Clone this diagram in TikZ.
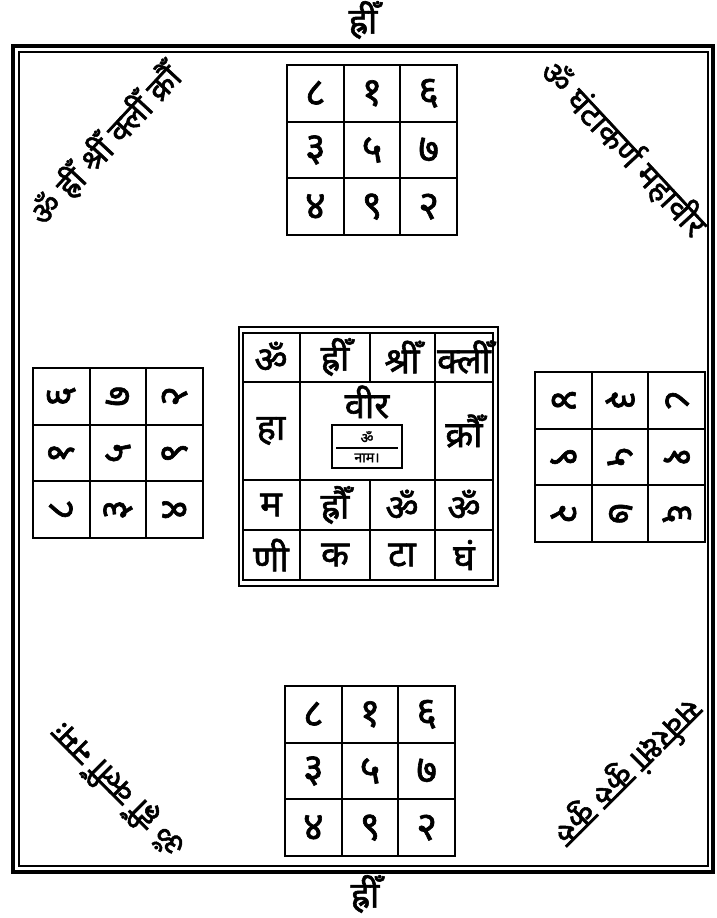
\documentclass[tikz,border=0pt]{standalone}
\usepackage{fontspec}
\newfontfamily\deva[Script=Devanagari, FakeBold=1.6]{Noto Sans}
\usetikzlibrary{positioning}
\tikzset{
  outer frame/.style={line width=3pt},
  inner frame/.style={line width=.9pt},
  grid/.style={line width=1.8pt},
  digit/.style={font=\deva\fontsize{34}{34}\selectfont, inner sep=0pt, transform shape},
  bija/.style={font=\deva\fontsize{31}{31}\selectfont, inner sep=0pt},
  mantra/.style={font=\deva\fontsize{28}{28}\selectfont, inner sep=0pt},
  small/.style={font=\deva\fontsize{12}{12}\selectfont, inner sep=0pt}
}
\newcommand{\magicsquare}[4]{%
  \draw[grid] (#2,#3) rectangle ({#2+170},{#3+170});
  \foreach \k in {1,2} {
    \draw[grid] ({#2+\k*170/3},#3) -- ({#2+\k*170/3},{#3+170});
    \draw[grid] (#2,{#3+\k*170/3}) -- ({#2+170},{#3+\k*170/3});
  }
  \begin{scope}[rotate around={#4:({#2+85},{#3+85})}]
    \foreach \d [count=\i from 0] in {८,१,६,३,५,७,४,९,२} {
      \pgfmathtruncatemacro\row{\i/3}
      \pgfmathtruncatemacro\col{mod(\i,3)}
      \node[digit] (#1-\i) at ({#2+(\col+0.5)*170/3},{#3+(\row+0.5)*170/3}) {\d};
    }
  \end{scope}}

\begin{document}
\begin{tikzpicture}[x=0.03cm, y=-0.03cm]
\useasboundingbox (0,0) rectangle (716,918);
\draw[outer frame] (13,46) rectangle (713,872);
\draw[inner frame] (19,52) rectangle (708,866);
\node[bija] (topbija) at (363,20) {ह्रीँ};
\node[bija] (bottombija) at (365,894) {ह्रीँ};

\magicsquare{top}{287}{65}{0}
\magicsquare{bottom}{285}{686}{0}
\magicsquare{left}{33}{368}{90}
\magicsquare{right}{535}{372}{-90}

\draw[inner frame] (239,327) rectangle (498,586);
\draw[grid] (243,333) rectangle (493,580);
\draw[grid] (243,382) -- (493,382);
\draw[grid] (243,480) -- (493,480);
\draw[grid] (243,530) -- (493,530);
\draw[grid] (300,333) -- (300,580);
\draw[grid] (435,333) -- (435,580);
\draw[grid] (370,333) -- (370,382);
\draw[grid] (370,480) -- (370,580);

\node[bija] (c11) at (271,357) {ॐ};
\node[bija] (c12) at (335,357) {ह्रीँ};
\node[bija] (c13) at (402,357) {श्रीँ};
\node[bija] (c14) at (464,357) {क्लीँ};
\node[bija] (c21) at (271,431) {हा};
\node[bija] (c22) at (367,402) {वीर};
\node[bija] (c24) at (464,431) {क्रौँ};
\node[bija] (c31) at (271,505) {म};
\node[bija] (c32) at (335,505) {ह्रौँ};
\node[bija] (c33) at (402,505) {ॐ};
\node[bija] (c34) at (464,505) {ॐ};
\node[bija] (c41) at (271,555) {णी};
\node[bija] (c42) at (335,555) {क};
\node[bija] (c43) at (402,555) {टा};
\node[bija] (c44) at (464,555) {घं};

\draw[line width=2.2pt] (332,425) rectangle (402,468);
\draw[inner frame] (336,448) -- (398,448);
\node[small] (nameup) at (367,437) {ॐ};
\node[small] (namedown) at (367,458) {नाम।};

\node[mantra, rotate=47] (tl) at (105,145) {ॐ ह्रीँ श्रीँ क्लीँ क्रौँ};
\node[mantra, rotate=-47] (tr) at (624,148) {ॐ घंटाकर्ण महावीर};
\node[mantra, rotate=135] (bl) at (118,790) {ॐ ह्रीँ क्लीँ नमः};
\node[mantra, rotate=225] (br) at (628,772) {सर्वरक्षां कुरु कुरु};
\end{tikzpicture}
\end{document}
